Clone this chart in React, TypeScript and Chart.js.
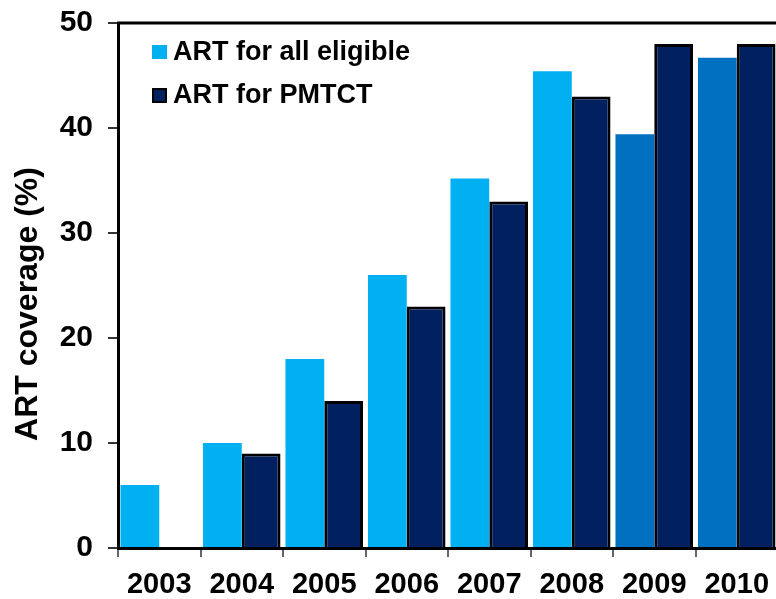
import React, { useEffect, useRef } from "react";
import { Chart, registerables } from "chart.js";

Chart.register(...registerables);

const categories = ["2003", "2004", "2005", "2006", "2007", "2008", "2009", "2010"];
const allEligible = [6, 10, 18, 26, 35.2, 45.4, 39.4, 46.7];
const pmtct = [0, 9, 14, 23, 33, 43, 48, 48];
const allEligibleColors = ["#00B0F0", "#00B0F0", "#00B0F0", "#00B0F0", "#00B0F0", "#00B0F0", "#0070C0", "#0070C0"];
const seriesNames = ["ART for all eligible", "ART for PMTCT"];
const yTitle = "ART coverage (%)";

const FONT = "'Liberation Sans', Arial, sans-serif";

export default function App() {
  const ref = useRef<HTMLCanvasElement | null>(null);

  useEffect(() => {
    const canvas = ref.current;
    if (!canvas) return;
    document.body.style.overflow = "hidden";

    const overlay = {
      id: "overlay",
      afterDraw(chart: any) {
        const ctx = chart.ctx;
        const area = chart.chartArea;
        ctx.save();
        // top border
        ctx.strokeStyle = "#000";
        ctx.lineWidth = 3;
        ctx.beginPath();
        ctx.moveTo(area.left - 1, area.top);
        ctx.lineTo(chart.width, area.top);
        ctx.stroke();

        // legend
        ctx.font = `bold 27px ${FONT}`;
        ctx.textBaseline = "middle";
        ctx.textAlign = "left";
        ctx.fillStyle = "#00B0F0";
        ctx.fillRect(152, 45, 15, 14);
        ctx.fillStyle = "#000";
        ctx.fillText(seriesNames[0], 173, 53);
        ctx.fillStyle = "#002060";
        ctx.fillRect(152, 88, 15, 15);
        ctx.strokeStyle = "#000";
        ctx.lineWidth = 2;
        ctx.strokeRect(153, 89, 13, 13);
        ctx.fillStyle = "#000";
        ctx.fillText(seriesNames[1], 173, 96);

        // y title
        ctx.translate(28, 304);
        ctx.rotate(-Math.PI / 2);
        ctx.textAlign = "center";
        ctx.font = `bold 32px ${FONT}`;
        ctx.fillText(yTitle, 0, 0);
        ctx.restore();
      },
    };

    const chart = new Chart(canvas, {
      type: "bar",
      data: {
        labels: categories,
        datasets: [
          {
            label: seriesNames[0],
            data: allEligible,
            backgroundColor: allEligibleColors,
            borderWidth: 0,
            categoryPercentage: 0.94,
            barPercentage: 1,
          },
          {
            label: seriesNames[1],
            data: pmtct,
            backgroundColor: "#002060",
            borderColor: "#000",
            borderWidth: 3,
            categoryPercentage: 0.94,
            barPercentage: 1,
          },
        ],
      },
      options: {
        responsive: false,
        animation: false,
        layout: { padding: { top: 23, right: 12, left: 0, bottom: 0 } },
        plugins: {
          legend: { display: false },
          tooltip: { enabled: false },
        },
        scales: {
          x: {
            offset: true,
            grid: {
              offset: true,
              drawOnChartArea: false,
              drawTicks: true,
              tickLength: 9,
              color: "#666",
              lineWidth: 2,
            },
            border: { display: true, color: "#000", width: 3 },
            ticks: {
              color: "#000",
              font: { family: FONT, size: 29, weight: "bold" },
              padding: 11,
              maxRotation: 0,
              autoSkip: false,
            },
            afterFit(scale: any) {
              scale.height = 51;
              scale.paddingLeft = 0;
              scale.paddingRight = 0;
            },
          },
          y: {
            min: 0,
            max: 50,
            ticks: {
              stepSize: 10,
              color: "#000",
              font: { family: FONT, size: 30, weight: "bold" },
              padding: 15,
            },
            grid: {
              drawOnChartArea: false,
              drawTicks: true,
              tickLength: 10,
              color: "#333",
              lineWidth: 2,
            },
            border: { display: true, color: "#000", width: 3 },
            afterFit(scale: any) {
              scale.width = 118;
              scale.paddingTop = 0;
              scale.paddingBottom = 0;
            },
          },
        },
      },
      plugins: [overlay],
    });

    return () => {
      chart.destroy();
    };
  }, []);

  return (
    <div
      style={{
        position: "fixed",
        left: 0,
        top: 0,
        width: 776,
        height: 599,
        overflow: "hidden",
        background: "#fff",
      }}
    >
      <canvas ref={ref} width={790} height={599} style={{ width: 790, height: 599, display: "block" }} />
    </div>
  );
}
